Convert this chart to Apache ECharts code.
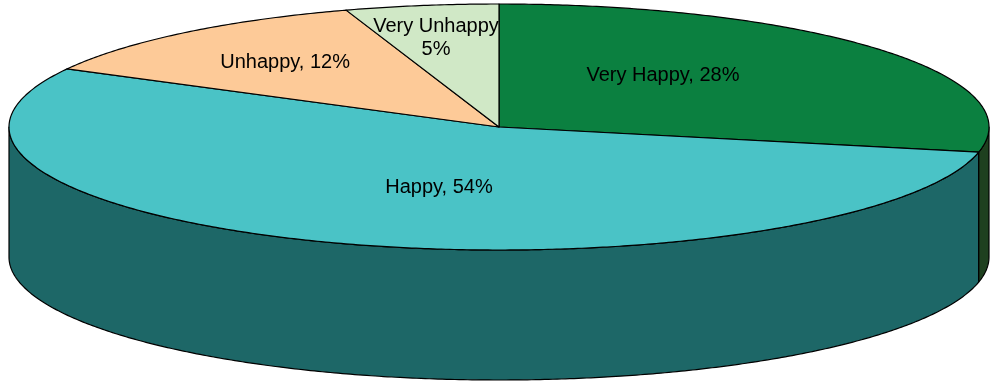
<!DOCTYPE html>
<html>
<head>
<meta charset="utf-8">
<title>Happiness survey</title>
<script src="https://cdn.jsdelivr.net/npm/echarts@6/dist/echarts.min.js"></script>
<style>
  html, body { margin: 0; padding: 0; background: #ffffff; }
  #chart { width: 997px; height: 381px; }
</style>
</head>
<body>
<div id="chart"></div>
<script>
// Survey answers and their percentage shares
const categories = ['Very Happy', 'Happy', 'Unhappy', 'Very Unhappy'];
const shares = [28, 54, 12, 5];

// Slice colours: top faces and the darker rim faces
const topColors = ['#0b8040', '#4ac3c6', '#fdca98', '#d0e8c6'];
const sideColors = ['#1e401f', '#1d6767', '#c9a078', '#a6b99e'];

// Label placement as fractions of the radius along each slice's mid direction
const labelFractions = [[0.431, 0.67], [0.358, 0.519], [0.679, 0.69], [0.814, 0.733]];

// Tilted-disc geometry
const disc = { cx: 499, cy: 127, rx: 490, ry: 123, depth: 130 };

const total = shares.reduce((a, b) => a + b, 0);
const startAngles = [];
let acc = 0;
shares.forEach((v) => { startAngles.push(acc / total * 360); acc += v; });

// Angle in degrees, clockwise from 12 o'clock, projected on the ellipse
function pt(deg, dy) {
  const r = deg * Math.PI / 180;
  return [disc.cx + disc.rx * Math.sin(r), disc.cy - disc.ry * Math.cos(r) + (dy || 0)];
}
function arc(a0, a1, dy) {
  const pts = [];
  const n = Math.max(2, Math.ceil(Math.abs(a1 - a0) / 0.5));
  for (let i = 0; i <= n; i++) pts.push(pt(a0 + (a1 - a0) * i / n, dy));
  return pts;
}
function labelText(name, pct) {
  return pct / total < 0.08 ? name + '\n' + pct + '%' : name + ', ' + pct + '%';
}

const chart = echarts.init(document.getElementById('chart'), null, { renderer: 'canvas' });

chart.setOption({
  backgroundColor: '#ffffff',
  animation: false,
  series: [{
    type: 'custom',
    coordinateSystem: 'none',
    data: shares.map((v, i) => ({ name: categories[i], value: v })),
    renderItem: function (params, api) {
      const i = params.dataIndex;
      const value = api.value(0);
      const a0 = startAngles[i];
      const a1 = a0 + value / total * 360;
      const children = [];

      // Rim: the part of the slice facing the viewer (lower half of the ellipse)
      const s = Math.max(a0, 90), e = Math.min(a1, 270);
      if (s < e) {
        const pts = arc(s, e, 0).concat(arc(e, s, disc.depth));
        children.push({
          type: 'polygon',
          z2: 1,
          shape: { points: pts },
          style: { fill: sideColors[i], stroke: '#000000', lineWidth: 1.2, lineJoin: 'round' }
        });
      }

      // Top face
      children.push({
        type: 'polygon',
        z2: 10,
        shape: { points: [[disc.cx, disc.cy]].concat(arc(a0, a1, 0)) },
        style: { fill: topColors[i], stroke: '#000000', lineWidth: 1.2, lineJoin: 'round' }
      });

      // Label
      const mid = (a0 + a1) / 2 * Math.PI / 180;
      const f = labelFractions[i];
      children.push({
        type: 'text',
        z2: 20,
        x: disc.cx + f[0] * disc.rx * Math.sin(mid),
        y: disc.cy - f[1] * disc.ry * Math.cos(mid),
        style: {
          text: labelText(categories[i], value),
          fill: '#000000',
          font: '20px "Liberation Sans", Arial, sans-serif',
          align: 'center',
          verticalAlign: 'middle',
          lineHeight: 23
        }
      });

      return { type: 'group', children: children };
    }
  }]
});
</script>
</body>
</html>
